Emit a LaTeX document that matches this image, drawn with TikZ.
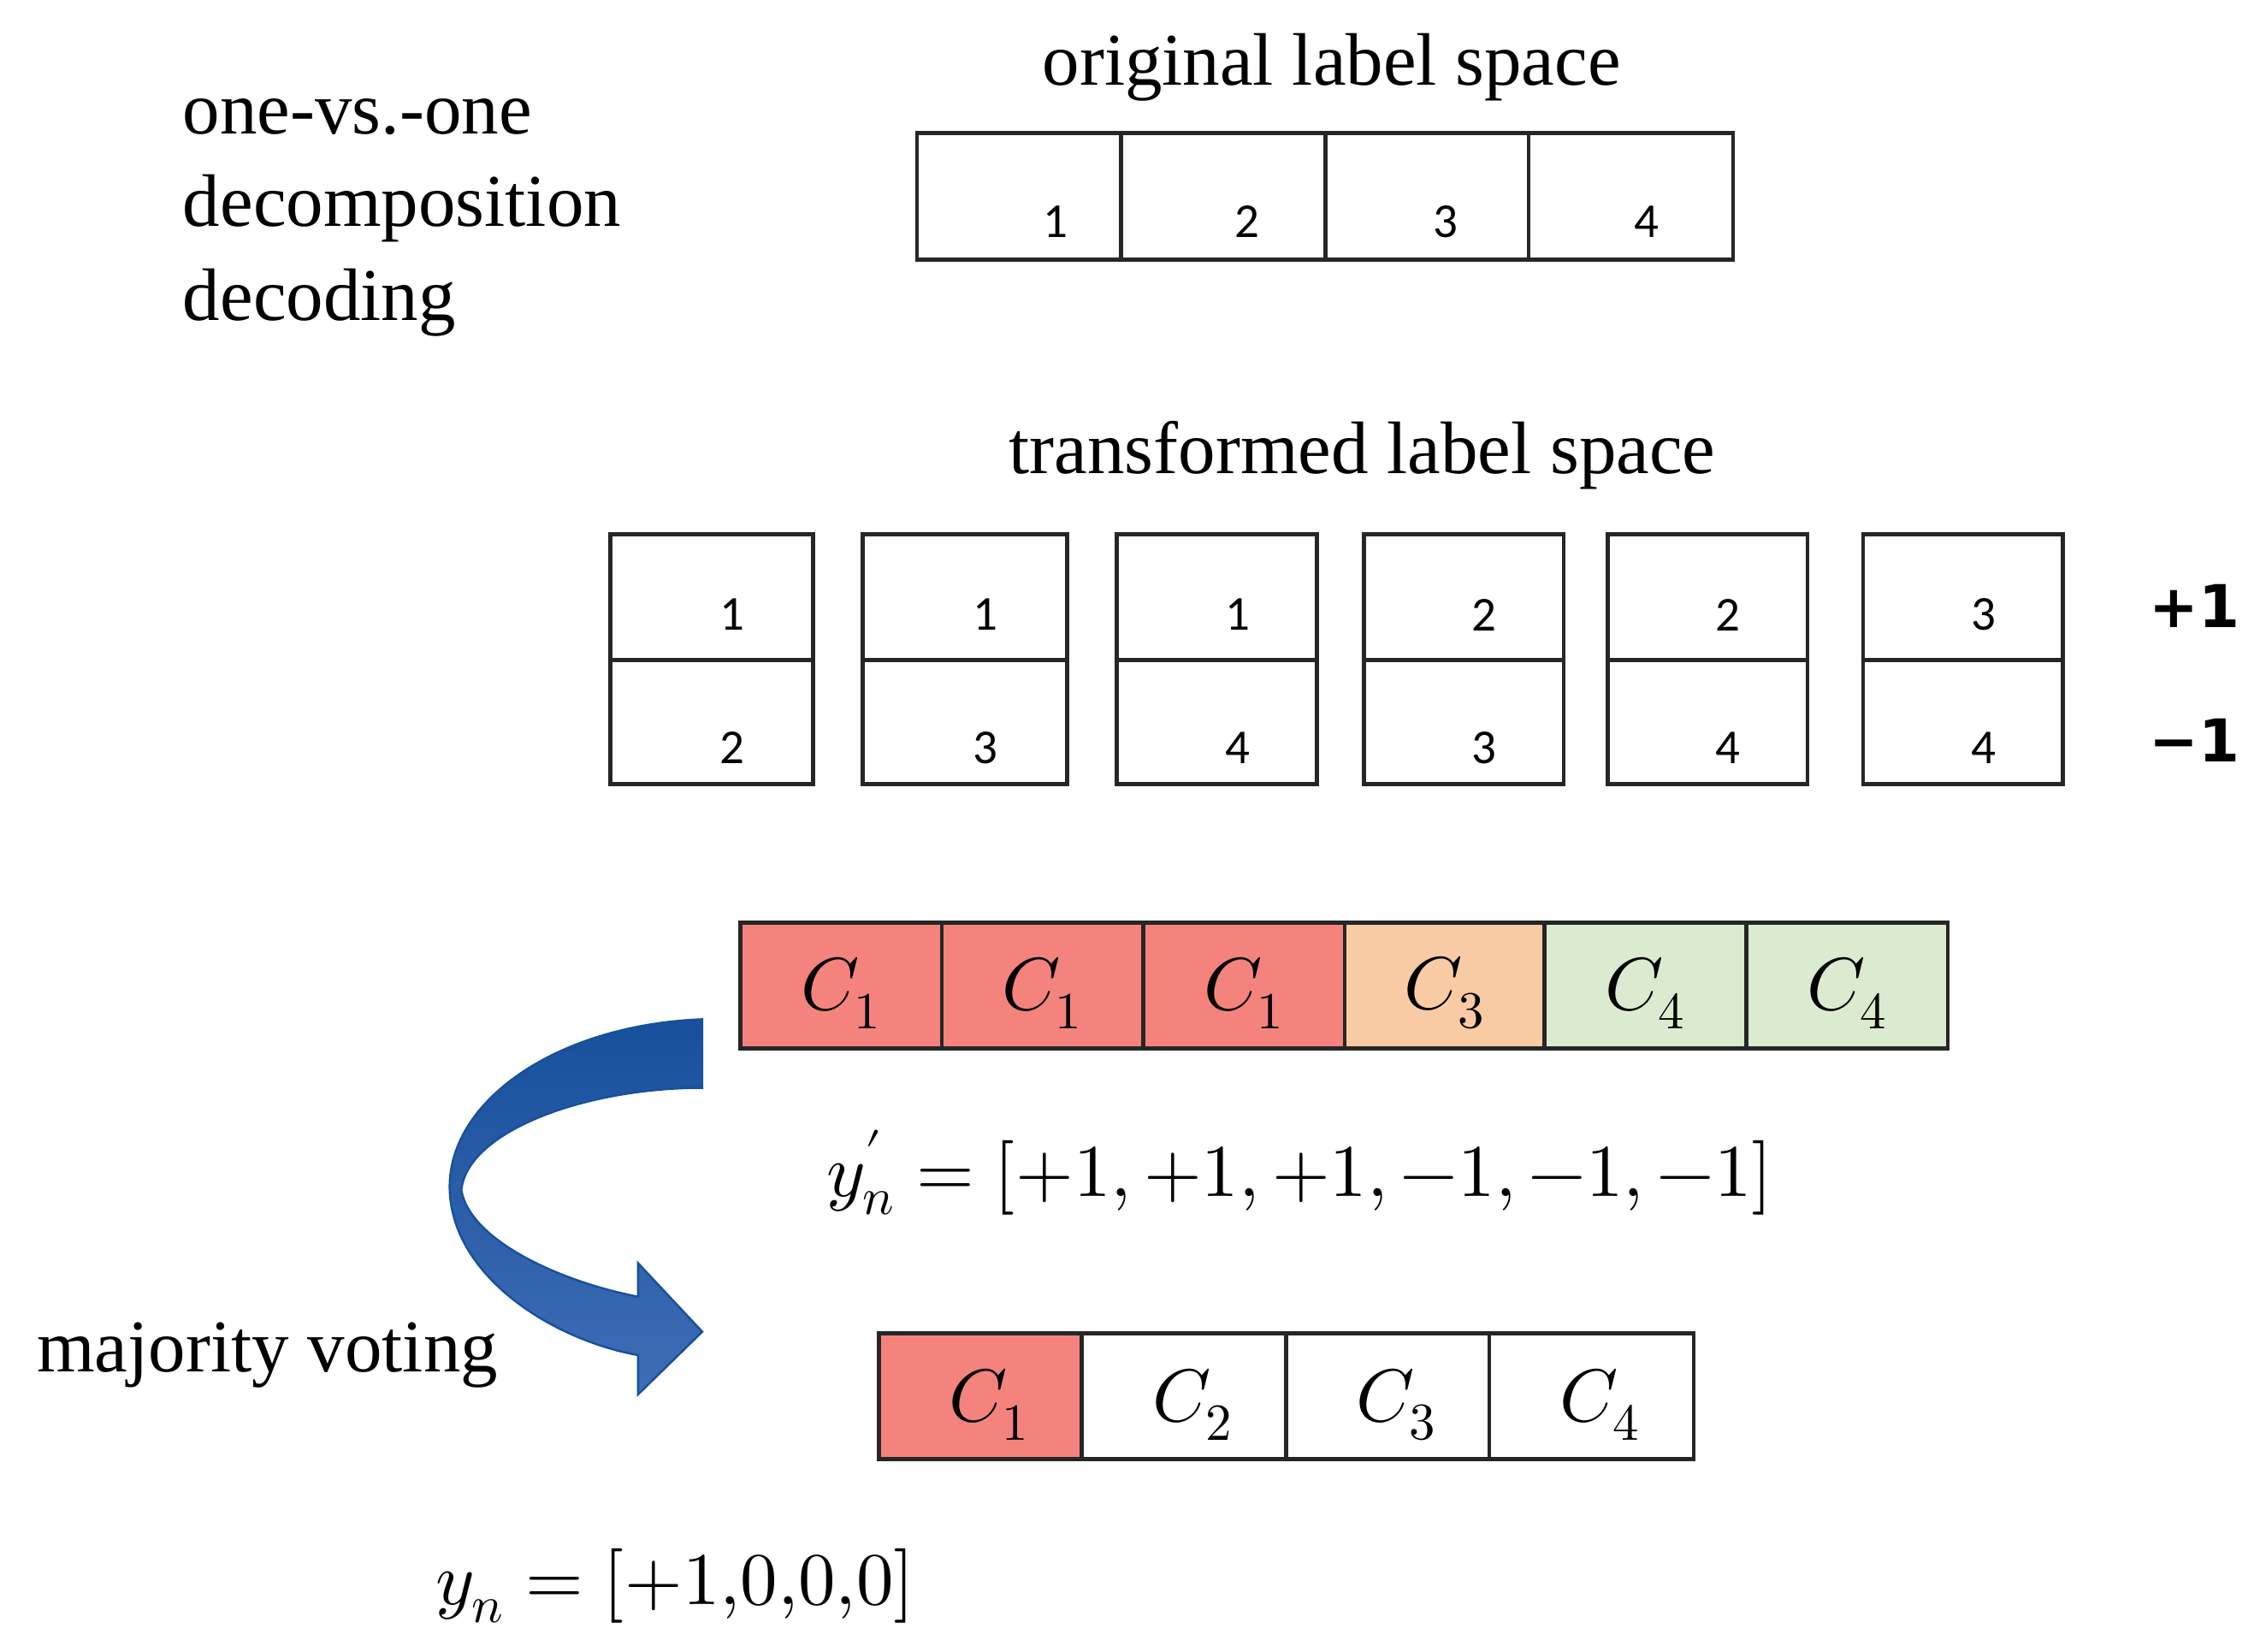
\documentclass[tikz,border=0pt]{standalone}
\usepackage{fontspec}
\setmainfont{Liberation Serif}
\newfontfamily\sansf{Carlito}
\newfontfamily\boldsans{DejaVu Sans}
\usepackage{unicode-math}
\setmathfont{Latin Modern Math}
\definecolor{cred}{HTML}{F4837D}
\definecolor{corange}{HTML}{F8CBA4}
\definecolor{cgreen}{HTML}{DAEBD0}
\definecolor{adark}{HTML}{17509C}
\definecolor{alight}{HTML}{3F6DB6}
\begin{document}
\begin{tikzpicture}[x=0.02cm,y=-0.02cm,
  lbl/.style={font=\fontsize{29}{34}\selectfont,inner sep=0pt},
  num/.style={font=\sansf\fontsize{19}{22}\selectfont,inner sep=0pt},
  pm/.style={font=\boldsans\bfseries\fontsize{23}{28}\selectfont,inner sep=0pt},
  cls/.style={font=\fontsize{29}{34}\selectfont,inner sep=0pt},
  box/.style={draw=black!85,line width=1.6pt}]
\useasboundingbox (0,0) rectangle (1552,1131);
% left text
\node[lbl,anchor=west] (t1) at (125,80) {one-vs.-one};
\node[lbl,anchor=west] (t2) at (125,143) {decomposition};
\node[lbl,anchor=west] (t3) at (125,207) {decoding};
\node[lbl] (ols) at (912,46) {original label space};
% original row
\foreach \a/\b/\n/\x in {628/768/1/723,768/908/2/854,908/1047/3/990,1047/1187/4/1128}{
  \draw[box] (\a,91) rectangle (\b,178);
  \node[num] (o\n) at (\x,152) {\n};
}
\node[lbl] (tls) at (933,312) {transformed label space};
% pair boxes
\foreach \a/\b/\p/\q/\k in {418/557/1/2/1,591/731/1/3/2,765/902/1/4/3,934/1071/2/3/4,1101/1238/2/4/5,1276/1413/3/4/6}{
  \draw[box] (\a,366) rectangle (\b,537);
  \draw[box] (\a,452) -- (\b,452);
  \node[num] (p\k) at ({(\a+\b)/2+14},421) {\p};
  \node[num] (q\k) at ({(\a+\b)/2+14},512) {\q};
}
\node[pm] (plus) at (1503,415) {+1};
\node[pm] (minus) at (1503,507) {−1};
% coloured row
\foreach \a/\b/\c/\i/\k in {507/645/cred/1/1,645/783/cred/1/2,783/921/cred/1/3,921/1058/corange/3/4,1058/1196/cgreen/4/5,1196/1334/cgreen/4/6}{
  \draw[box,fill=\c] (\a,632) rectangle (\b,718);
  \node[cls] (c\k) at ({(\a+\b)/2},680) {$C_{\i}$};
}
\node[cls] (yp) at (890,803) {$y_n^{\prime}=[+1,+1,+1,-1,-1,-1]$};
% bottom row
\draw[box,fill=cred] (602,913) rectangle (741,999);
\foreach \a/\b/\i in {602/741/1,741/881/2,881/1020/3,1020/1160/4}{
  \draw[box] (\a,913) rectangle (\b,999);
  \node[cls] (d\i) at ({(\a+\b)/2+6},962) {$C_{\i}$};
}
\node[lbl,anchor=west] (mv) at (25,928) {majority voting};
\node[cls,anchor=west] (yn) at (298,1086) {$y_n=[+1{,}0{,}0{,}0]$};
% curved arrow
\shade[top color=adark,bottom color=alight,draw=adark,line width=0.8pt]
 (481,698) .. controls (380,702) and (306,755) .. (308,815)
 .. controls (310,875) and (380,918) .. (437,928)
 -- (437,955) -- (481,912) -- (437,865) -- (437,888)
 .. controls (385,878) and (322,850) .. (316,815)
 .. controls (320,775) and (400,745) .. (481,745) -- cycle;
\end{tikzpicture}
\end{document}
